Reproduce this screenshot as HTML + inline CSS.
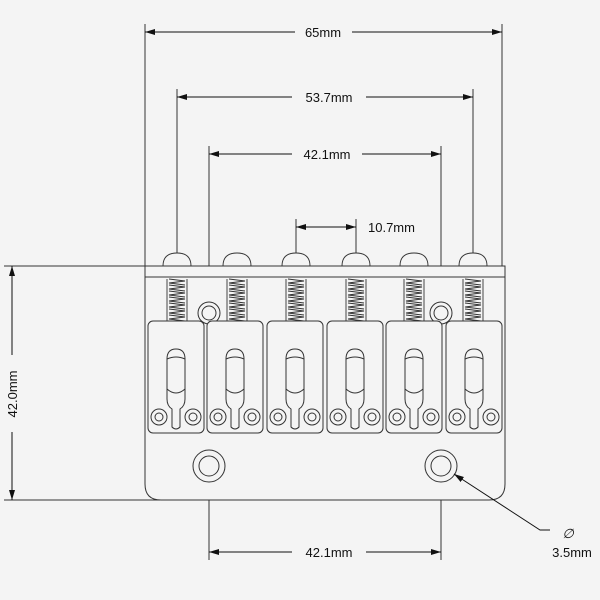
<!DOCTYPE html><html><head><style>body{margin:0;background:#f4f4f4}svg{display:block}text{font-family:"Liberation Sans",sans-serif;font-size:13px;fill:#111}</style></head><body>
<svg width="600" height="600" viewBox="0 0 600 600" xmlns="http://www.w3.org/2000/svg">
<defs>
<marker id="a" viewBox="0 0 10 6" refX="10" refY="3" markerWidth="10" markerHeight="6" orient="auto-start-reverse"><path d="M0,0L10,3L0,6z" fill="#111"/></marker>
<g id="sp" fill="none" stroke="#333" stroke-width="0.9">
<path d="M-14,0 Q-14,-13 0,-13 Q14,-13 14,0 Z" fill="#f4f4f4"/>
<line x1="-10" y1="13" x2="-10" y2="56"/>
<line x1="10" y1="13" x2="10" y2="56"/>
<path d="M-8,13 L8,15 L-8,17 L8,19 M-8,19 L8,21 L-8,23 L8,25 M-8,25 L8,27 L-8,29 L8,31 M-8,31 L8,33 L-8,35 L8,37 M-8,37 L8,39 L-8,41 L8,43 M-8,43 L8,45 L-8,47 L8,49 M-8,49 L8,51 L-8,53 L8,55"/>
</g>
<g id="sd" fill="none" stroke="#333" stroke-width="1">
<rect x="-28" y="0" width="56" height="112" rx="5" fill="#f4f4f4"/>
<path d="M-9,38 V78 Q-9,85 -4,88 V106 Q0,110 4,106 V88 Q9,85 9,78 V38 Q9,28 0,28 Q-9,28 -9,38z"/>
<path d="M-9,38 Q0,34 9,38 M-9,68 Q0,76 9,68"/>
<circle cx="-17" cy="96" r="8"/><circle cx="-17" cy="96" r="4"/>
<circle cx="17" cy="96" r="8"/><circle cx="17" cy="96" r="4"/>
</g>
</defs>
<g stroke="#333" stroke-width="1" fill="none">
<line x1="145" y1="24" x2="145" y2="266"/><line x1="502" y1="24" x2="502" y2="266"/>
<line x1="177" y1="89" x2="177" y2="253"/><line x1="473" y1="89" x2="473" y2="253"/>
<line x1="209" y1="146" x2="209" y2="305"/><line x1="441" y1="146" x2="441" y2="305"/>
<line x1="296" y1="219" x2="296" y2="253"/><line x1="356" y1="219" x2="356" y2="253"/>
<line x1="4" y1="266" x2="145" y2="266"/><line x1="4" y1="500" x2="160" y2="500"/>
<line x1="209" y1="480" x2="209" y2="560"/><line x1="441" y1="480" x2="441" y2="560"/>
<path d="M145,266 H505 V484 Q505,500 489,500 H161 Q145,500 145,484 Z" fill="#f4f4f4"/>
<line x1="145" y1="277" x2="505" y2="277"/>
<circle cx="209" cy="466" r="16"/><circle cx="209" cy="466" r="10"/>
<circle cx="441" cy="466" r="16"/><circle cx="441" cy="466" r="10"/>
<circle cx="209" cy="313" r="11"/><circle cx="209" cy="313" r="7"/>
<circle cx="441" cy="313" r="11"/><circle cx="441" cy="313" r="7"/>
</g>
<use href="#sp" x="177" y="266"/><use href="#sp" x="237" y="266"/><use href="#sp" x="296" y="266"/>
<use href="#sp" x="356" y="266"/><use href="#sp" x="414" y="266"/><use href="#sp" x="473" y="266"/>
<use href="#sd" x="176" y="321"/><use href="#sd" x="235" y="321"/><use href="#sd" x="295" y="321"/>
<use href="#sd" x="355" y="321"/><use href="#sd" x="414" y="321"/><use href="#sd" x="474" y="321"/>
<g stroke="#111" stroke-width="1" fill="none">
<line x1="145" y1="32" x2="295" y2="32" marker-start="url(#a)"/><line x1="352" y1="32" x2="502" y2="32" marker-end="url(#a)"/>
<line x1="177" y1="97" x2="292" y2="97" marker-start="url(#a)"/><line x1="366" y1="97" x2="473" y2="97" marker-end="url(#a)"/>
<line x1="209" y1="154" x2="292" y2="154" marker-start="url(#a)"/><line x1="362" y1="154" x2="441" y2="154" marker-end="url(#a)"/>
<line x1="296" y1="227" x2="356" y2="227" marker-start="url(#a)" marker-end="url(#a)"/>
<line x1="12" y1="266" x2="12" y2="355" marker-start="url(#a)"/><line x1="12" y1="432" x2="12" y2="500" marker-end="url(#a)"/>
<line x1="209" y1="552" x2="292" y2="552" marker-start="url(#a)"/><line x1="366" y1="552" x2="441" y2="552" marker-end="url(#a)"/>
<polyline points="550,530 540,530 454,474"/>
<line x1="460" y1="478" x2="454" y2="474" marker-end="url(#a)"/>
</g>
<text x="323" y="37" text-anchor="middle">65mm</text>
<text x="329" y="102" text-anchor="middle">53.7mm</text>
<text x="327" y="159" text-anchor="middle">42.1mm</text>
<text x="368" y="232">10.7mm</text>
<text x="329" y="557" text-anchor="middle">42.1mm</text>
<text transform="translate(17,394) rotate(-90)" text-anchor="middle">42.0mm</text>
<text x="568" y="538" text-anchor="middle" font-style="italic">∅</text>
<text x="572" y="557" text-anchor="middle">3.5mm</text>
</svg></body></html>
